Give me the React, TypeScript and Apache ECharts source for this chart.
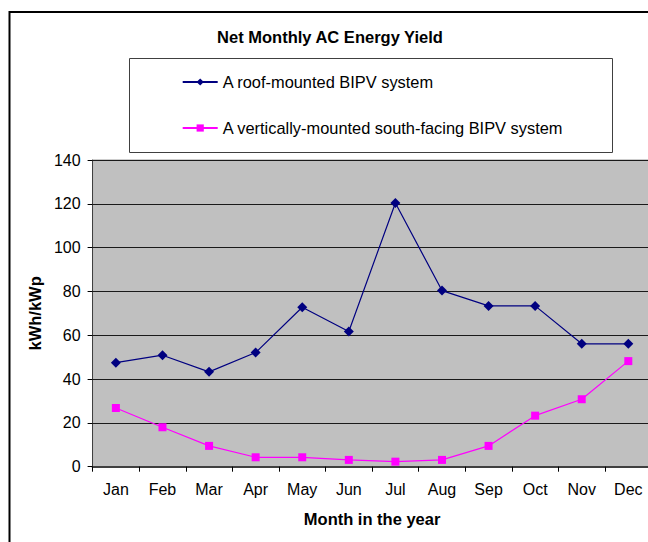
import React, { useEffect, useRef } from "react";
import * as echarts from "echarts";

const months = ["Jan", "Feb", "Mar", "Apr", "May", "Jun", "Jul", "Aug", "Sep", "Oct", "Nov", "Dec"];
const roofMounted = [47.5, 50.9, 43.3, 52.1, 72.8, 61.7, 120.4, 80.4, 73.4, 73.4, 56.1, 56.1];
const verticalSouth = [26.8, 18.0, 9.5, 4.3, 4.3, 3.1, 2.3, 3.1, 9.5, 23.3, 30.8, 48.2];
const seriesNames = ["A roof-mounted BIPV system", "A vertically-mounted south-facing BIPV system"];
const titleText = "Net Monthly AC Energy Yield";
const xName = "Month in the year";
const yName = "kWh/kWp";

const FONT = "'Liberation Sans', Arial, sans-serif";

export default function App() {
  const ref = useRef<HTMLDivElement>(null);
  useEffect(() => {
    if (!ref.current) return;
    const chart = echarts.init(ref.current, undefined, { renderer: "svg" });
    chart.setOption({
      animation: false,
      backgroundColor: "#ffffff",
      textStyle: { fontFamily: FONT },
      title: {
        text: titleText,
        left: "center",
        top: 28.5,
        padding: 0,
        textStyle: { fontFamily: FONT, fontSize: 16.5, fontWeight: "bold", color: "#000" },
      },
      graphic: [
        {
          type: "rect",
          z: -1,
          shape: { x: 9.5, y: 12, width: 700, height: 600 },
          style: { fill: "none", stroke: "#000", lineWidth: 2 },
        },
        {
          type: "rect",
          z: -1,
          shape: { x: 129.5, y: 58.5, width: 483, height: 94 },
          style: { fill: "#fff", stroke: "#404040", lineWidth: 1 },
        },
      ],
      legend: {
        orient: "vertical",
        left: 181.7,
        top: 74,
        padding: 0,
        itemGap: 30,
        itemWidth: 35,
        itemHeight: 9,
        textStyle: { fontFamily: FONT, fontSize: 16.4, color: "#000" },
        data: seriesNames,
      },
      grid: {
        left: 92.6,
        top: 160,
        right: 8.4,
        bottom: 75.3,
        show: true,
        backgroundColor: "#C0C0C0",
        borderColor: "#9a9a9a",
        borderWidth: 1,
        containLabel: false,
      },
      xAxis: {
        type: "category",
        data: months,
        boundaryGap: true,
        name: xName,
        nameLocation: "middle",
        nameGap: 44,
        nameTextStyle: { fontFamily: FONT, fontSize: 16.5, fontWeight: "bold", color: "#000" },
        axisLine: { lineStyle: { color: "#404040", width: 2 } },
        axisTick: { show: true, length: 5, lineStyle: { color: "#000" } },
        axisLabel: { margin: 15, fontFamily: FONT, fontSize: 16, color: "#000" },
        splitLine: { show: false },
      },
      yAxis: {
        type: "value",
        min: 0,
        max: 140,
        interval: 20,
        name: yName,
        nameLocation: "middle",
        nameRotate: 90,
        nameGap: 48,
        nameTextStyle: { fontFamily: FONT, fontSize: 16.5, fontWeight: "bold", color: "#000" },
        axisLine: { show: true, lineStyle: { color: "#404040", width: 1 } },
        axisTick: { show: true, length: 5, lineStyle: { color: "#000" } },
        axisLabel: { margin: 12, fontFamily: FONT, fontSize: 16, color: "#000" },
        splitLine: { show: true, lineStyle: { color: "#1a1a1a", width: 1 } },
      },
      series: [
        {
          name: seriesNames[0],
          type: "line",
          data: roofMounted,
          symbol: "diamond",
          symbolSize: 10,
          itemStyle: { color: "#000080" },
          lineStyle: { color: "#000080", width: 1.2 },
        },
        {
          name: seriesNames[1],
          type: "line",
          data: verticalSouth,
          symbol: "rect",
          symbolSize: 8,
          itemStyle: { color: "#FF00FF" },
          lineStyle: { color: "#FF00FF", width: 1.2 },
        },
      ],
    });
    return () => chart.dispose();
  }, []);
  return (
    <div style={{ position: "fixed", left: 0, top: 0, width: 648, height: 542, overflow: "hidden", background: "#fff" }}>
      <div ref={ref} style={{ width: 660, height: 542 }} />
    </div>
  );
}
